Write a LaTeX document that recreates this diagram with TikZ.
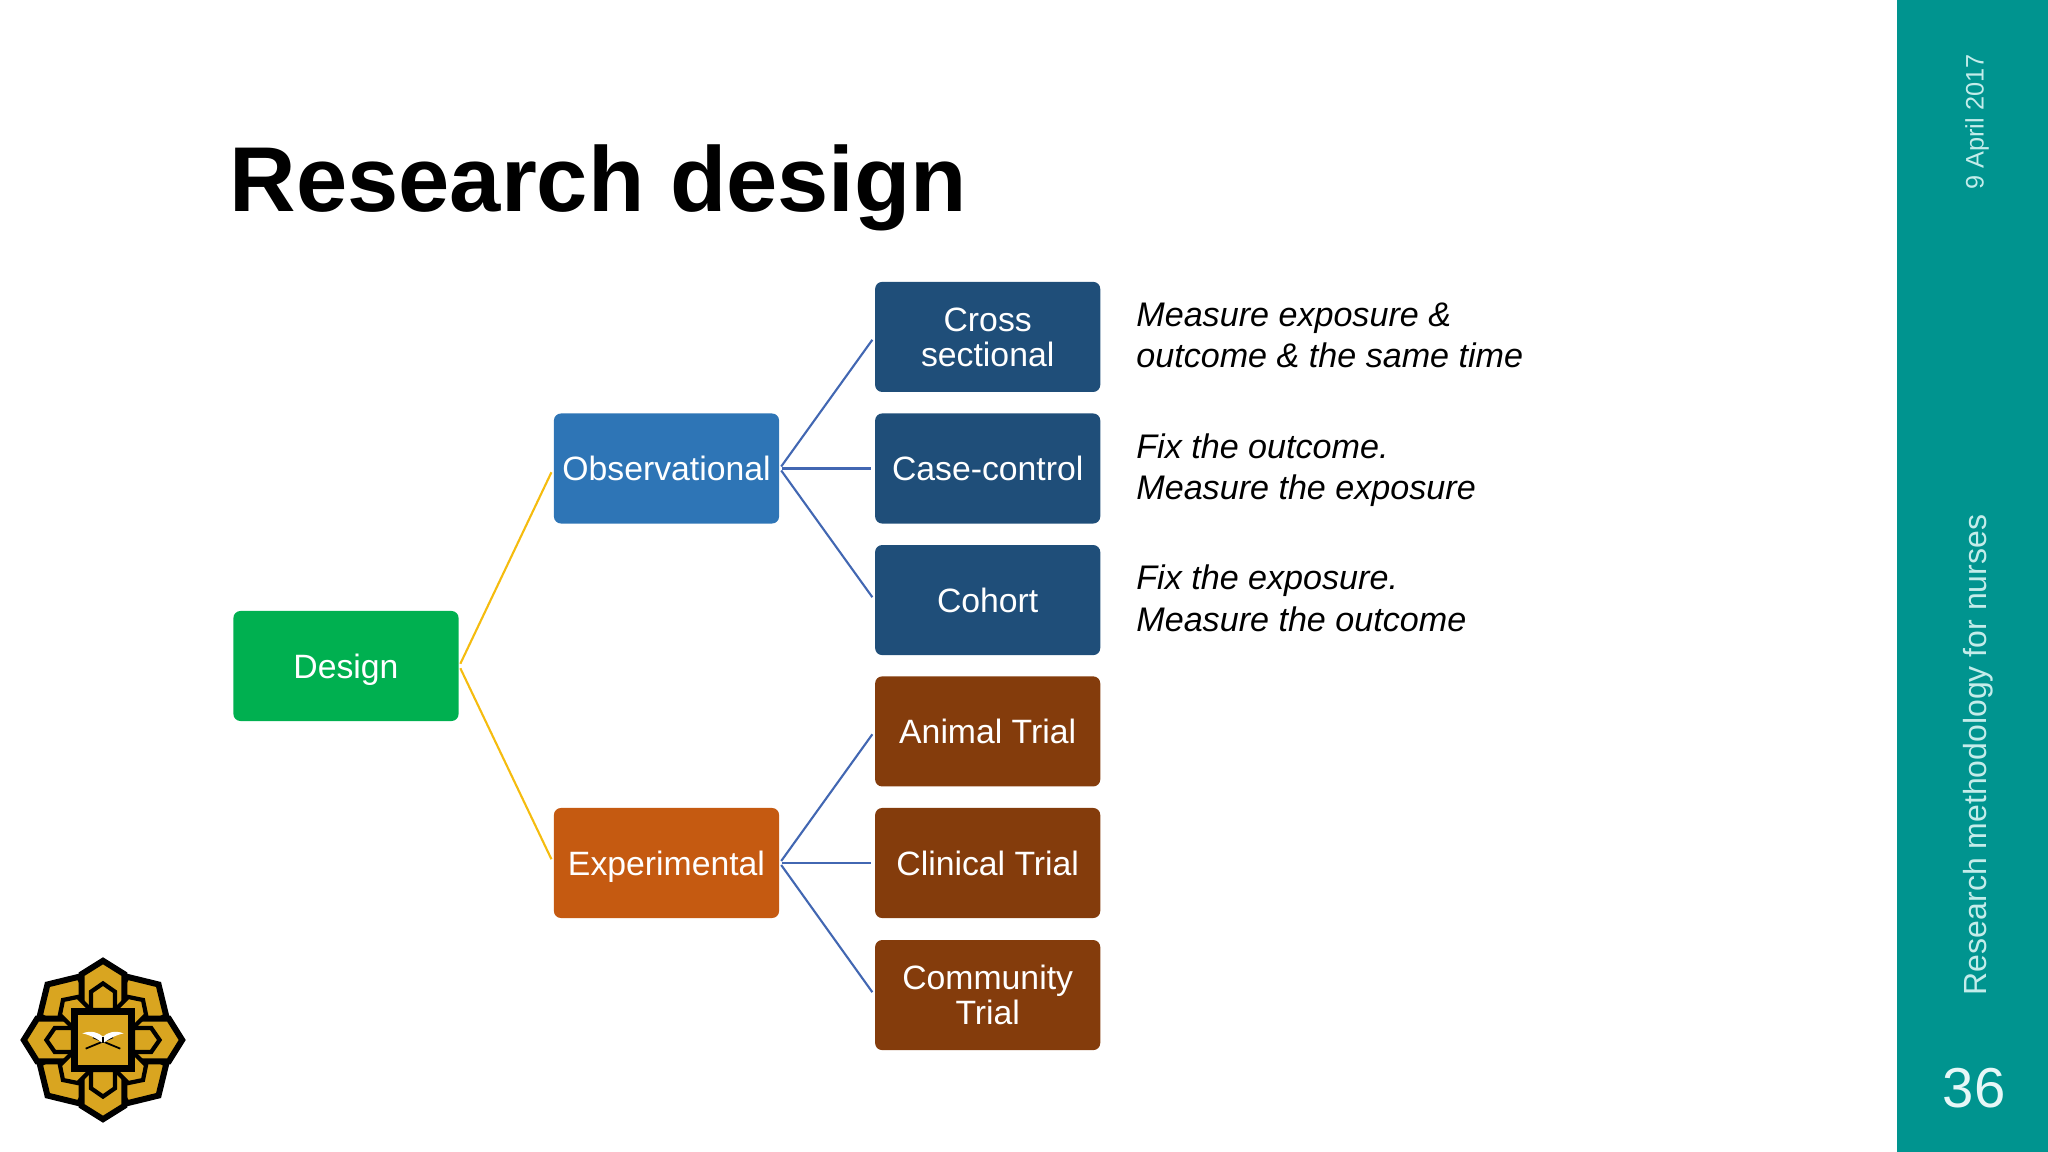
\documentclass[tikz,border=0pt]{standalone}
\usepackage{fontspec}
\usepackage{xcolor}
\usetikzlibrary{positioning}
\setmainfont{Liberation Sans}
\definecolor{sidebar}{HTML}{00948F}
\definecolor{sidetext}{HTML}{C4ECEA}
\definecolor{designgreen}{HTML}{00B050}
\definecolor{obsblue}{HTML}{2E75B6}
\definecolor{expbrown}{HTML}{C55A11}
\definecolor{studyblue}{HTML}{1F4E79}
\definecolor{trialbrown}{HTML}{843C0C}
\definecolor{linkyellow}{HTML}{F5BC0F}
\definecolor{linkblue}{HTML}{4267B2}
\definecolor{logogold}{HTML}{D9A520}

\begin{document}
\begin{tikzpicture}[x=0.01cm, y=-0.01cm,
    box/.style={rectangle, rounded corners=0.07cm, text=white, minimum width=2.25cm, minimum height=1.1cm, inner sep=0pt, text depth=0pt, align=center, font=\fontsize{9.6}{10}\selectfont},
    note/.style={right=0.347cm of #1, yshift=0.02cm, inner sep=0pt, text depth=0pt, align=left, font=\fontsize{9.7}{11.7}\selectfont\itshape},
    yellowlink/.style={draw=linkyellow, line width=0.6pt, shorten <=0.7pt, shorten >=1.2pt},
    bluelink/.style={draw=linkblue, line width=0.6pt, shorten <=0.7pt, shorten >=1pt},
    sidenote/.style={rotate=90, text=sidetext, inner sep=0pt},
    petal/.style={fill=logogold, draw=black, line width=1.7pt, line join=miter},
    innerpetal/.style={fill=logogold, draw=black, line width=1.2pt, line join=miter}]

    \useasboundingbox (0,0) rectangle (2048,1152);
    \fill[sidebar] (1897,0) rectangle (2048,1152);

    \node[anchor=base west, inner sep=0pt, font=\fontsize{26.2}{28}\selectfont\bfseries] (title) at (229,212) {Research design};

    \node[box, fill=designgreen] (design) at (346,666) {Design};
    \node[box, fill=obsblue] (obs) at (666.5,468.5) {Observational};
    \node[box, fill=expbrown] (exp) at (666.5,863) {Experimental};

    \node[box, fill=studyblue, right of=obs, node distance=3.21cm] (casecontrol) {Case-control};
    \node[box, fill=studyblue, above of=casecontrol, node distance=1.315cm] (cross) {Cross\\sectional};
    \node[box, fill=studyblue, below of=casecontrol, node distance=1.315cm] (cohort) {Cohort};

    \node[box, fill=trialbrown, right of=exp, node distance=3.21cm] (clinical) {Clinical Trial};
    \node[box, fill=trialbrown, above of=clinical, node distance=1.315cm] (animal) {Animal Trial};
    \node[box, fill=trialbrown, below of=clinical, node distance=1.32cm] (community) {Community\\Trial};

    \node[note=cross] (crossnote) {Measure exposure \&\\outcome \& the same time};
    \node[note=casecontrol] (casenote) {Fix the outcome.\\Measure the exposure};
    \node[note=cohort] (cohortnote) {Fix the exposure.\\Measure the outcome};

    \draw[yellowlink] (design.east) -- (obs.west);
    \draw[yellowlink] (design.east) -- (exp.west);
    \draw[bluelink] (obs.east) -- (cross.west);
    \draw[bluelink] (obs.east) -- (casecontrol.west);
    \draw[bluelink] (obs.east) -- (cohort.west);
    \draw[bluelink] (exp.east) -- (animal.west);
    \draw[bluelink] (exp.east) -- (clinical.west);
    \draw[bluelink] (exp.east) -- (community.west);

    \node[sidenote, font=\fontsize{7.2}{8}\selectfont] (date) at (1977,122) {9 April 2017};
    \node[sidenote, font=\fontsize{9.1}{10}\selectfont] (course) at (1978,755) {Research methodology for nurses};
    \node[text=sidetext!40!white, inner sep=0pt, font=\fontsize{16}{18}\selectfont] (page) at (1974,1088) {36};

    % logo
    \begin{scope}[shift={(103,1040)}, x=0.00333cm, y=-0.00333cm]
        \foreach \a in {45,135,225,315}
            \draw[petal, rotate=\a] (-50,-80) -- (-84,-185) -- (0,-236) -- (84,-185) -- (50,-80) -- cycle;
        \foreach \a in {0,90,180,270}
            \draw[petal, rotate=\a] (-64,-90) -- (-64,-198) -- (0,-238) -- (64,-198) -- (64,-90) -- cycle;
        \foreach \a in {45,135,225,315}
            \draw[innerpetal, rotate=\a] (-38,-90) -- (-38,-145) -- (0,-170) -- (38,-145) -- (38,-90) -- cycle;
        \foreach \a in {0,90,180,270}
            \draw[innerpetal, rotate=\a] (-36,-90) -- (-36,-145) -- (0,-170) -- (36,-145) -- (36,-90) -- cycle;
        \fill[black] (-97,-97) rectangle (97,97);
        \fill[logogold] (-74,-74) rectangle (74,74);
        \draw[black, line width=0.5pt] (-52,26) -- (30,-8);
        \draw[black, line width=0.5pt] (52,26) -- (-30,-8);
        \fill[white] (-62,-20) .. controls (-35,-30) and (-12,-22) .. (0,-10) .. controls (12,-22) and (35,-30) .. (62,-20) .. controls (35,-14) and (15,-2) .. (0,10) .. controls (-15,-2) and (-35,-14) .. (-62,-20) -- cycle;
        \draw[black, line width=0.4pt] (0,-10) -- (0,10);
    \end{scope}
\end{tikzpicture}
\end{document}
